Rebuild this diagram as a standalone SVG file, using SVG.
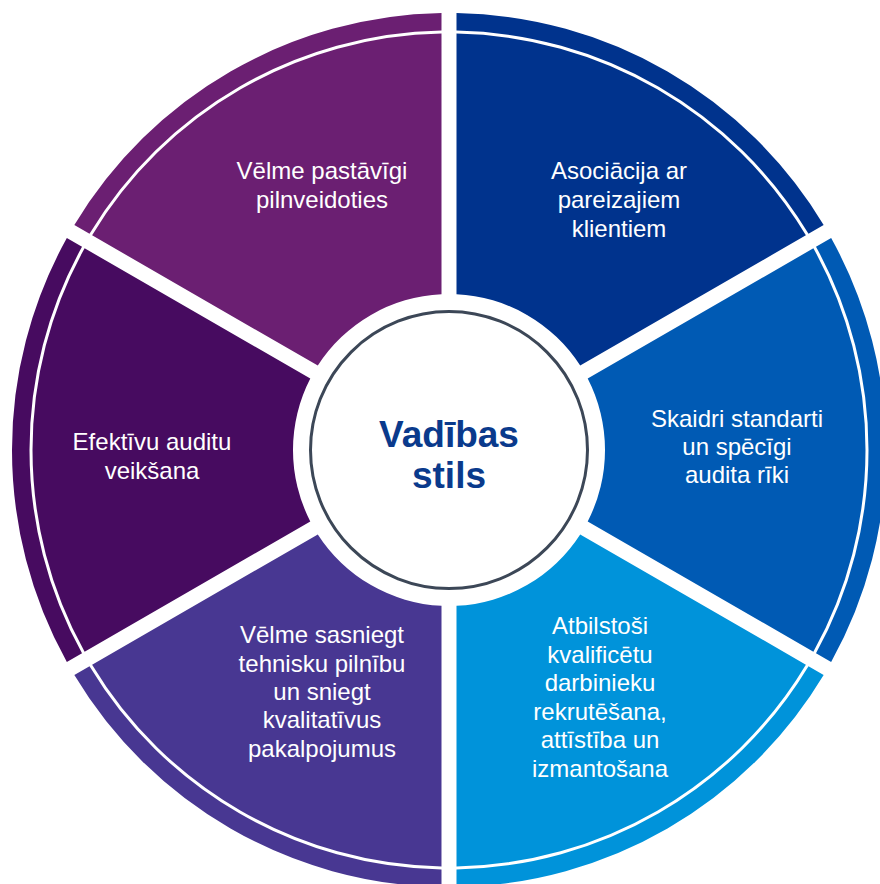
<svg xmlns="http://www.w3.org/2000/svg" xmlns:xlink="http://www.w3.org/1999/xlink" width="880" height="884" viewBox="0 0 880 884">
<style>
.lbl{font-family:"Liberation Sans",Arial,sans-serif;font-size:24px;fill:#ffffff;text-anchor:middle}
.ctr{font-family:"Liberation Sans",Arial,sans-serif;font-size:37px;font-weight:bold;fill:#0a3a8c;text-anchor:middle}
</style>
<defs>
<path id="seg" d="M138.70 -71.42 L364.39 -201.72 A416.5 416.5 0 0 1 364.39 201.72 L138.70 71.42 A156 156 0 0 0 138.70 -71.42 Z M366.99 -203.22 L382.15 -211.98 A437 437 0 0 1 382.15 211.98 L366.99 203.22 A419.5 419.5 0 0 0 366.99 -203.22 Z"/>
</defs>
<rect width="880" height="884" fill="#ffffff"/>
<g id="connectors"></g>
<g id="seg-top-left">
<use xlink:href="#seg" href="#seg" transform="translate(449 450) rotate(240)" fill="#6b1f72"/>
<text class="lbl" x="322" y="179">Vēlme pastāvīgi</text>
<text class="lbl" x="322" y="208">pilnveidoties</text>
</g>
<g id="seg-top-right">
<use xlink:href="#seg" href="#seg" transform="translate(449 450) rotate(-60)" fill="#00338d"/>
<text class="lbl" x="619" y="179">Asociācija ar</text>
<text class="lbl" x="619" y="208">pareizajiem</text>
<text class="lbl" x="619" y="237">klientiem</text>
</g>
<g id="seg-right">
<use xlink:href="#seg" href="#seg" transform="translate(449 450)" fill="#005ab4"/>
<text class="lbl" x="737" y="427">Skaidri standarti</text>
<text class="lbl" x="737" y="455">un spēcīgi</text>
<text class="lbl" x="737" y="483">audita rīki</text>
</g>
<g id="seg-bottom-right">
<use xlink:href="#seg" href="#seg" transform="translate(449 450) rotate(60)" fill="#0093da"/>
<text class="lbl" x="600" y="634">Atbilstoši</text>
<text class="lbl" x="600" y="663">kvalificētu</text>
<text class="lbl" x="600" y="691">darbinieku</text>
<text class="lbl" x="600" y="720">rekrutēšana,</text>
<text class="lbl" x="600" y="748">attīstība un</text>
<text class="lbl" x="600" y="777">izmantošana</text>
</g>
<g id="seg-bottom-left">
<use xlink:href="#seg" href="#seg" transform="translate(449 450) rotate(120)" fill="#483792"/>
<text class="lbl" x="322" y="643">Vēlme sasniegt</text>
<text class="lbl" x="322" y="672">tehnisku pilnību</text>
<text class="lbl" x="322" y="700">un sniegt</text>
<text class="lbl" x="322" y="728">kvalitatīvus</text>
<text class="lbl" x="322" y="757">pakalpojumus</text>
</g>
<g id="seg-left">
<use xlink:href="#seg" href="#seg" transform="translate(449 450) rotate(180)" fill="#470b60"/>
<text class="lbl" x="152" y="450">Efektīvu auditu</text>
<text class="lbl" x="152" y="479">veikšana</text>
</g>
<g id="center">
<circle cx="449" cy="450" r="138.5" fill="#ffffff" stroke="#3c4757" stroke-width="3"/>
<text class="ctr" x="449" y="447">Vadības</text>
<text class="ctr" x="449" y="488">stils</text>
</g>
</svg>
